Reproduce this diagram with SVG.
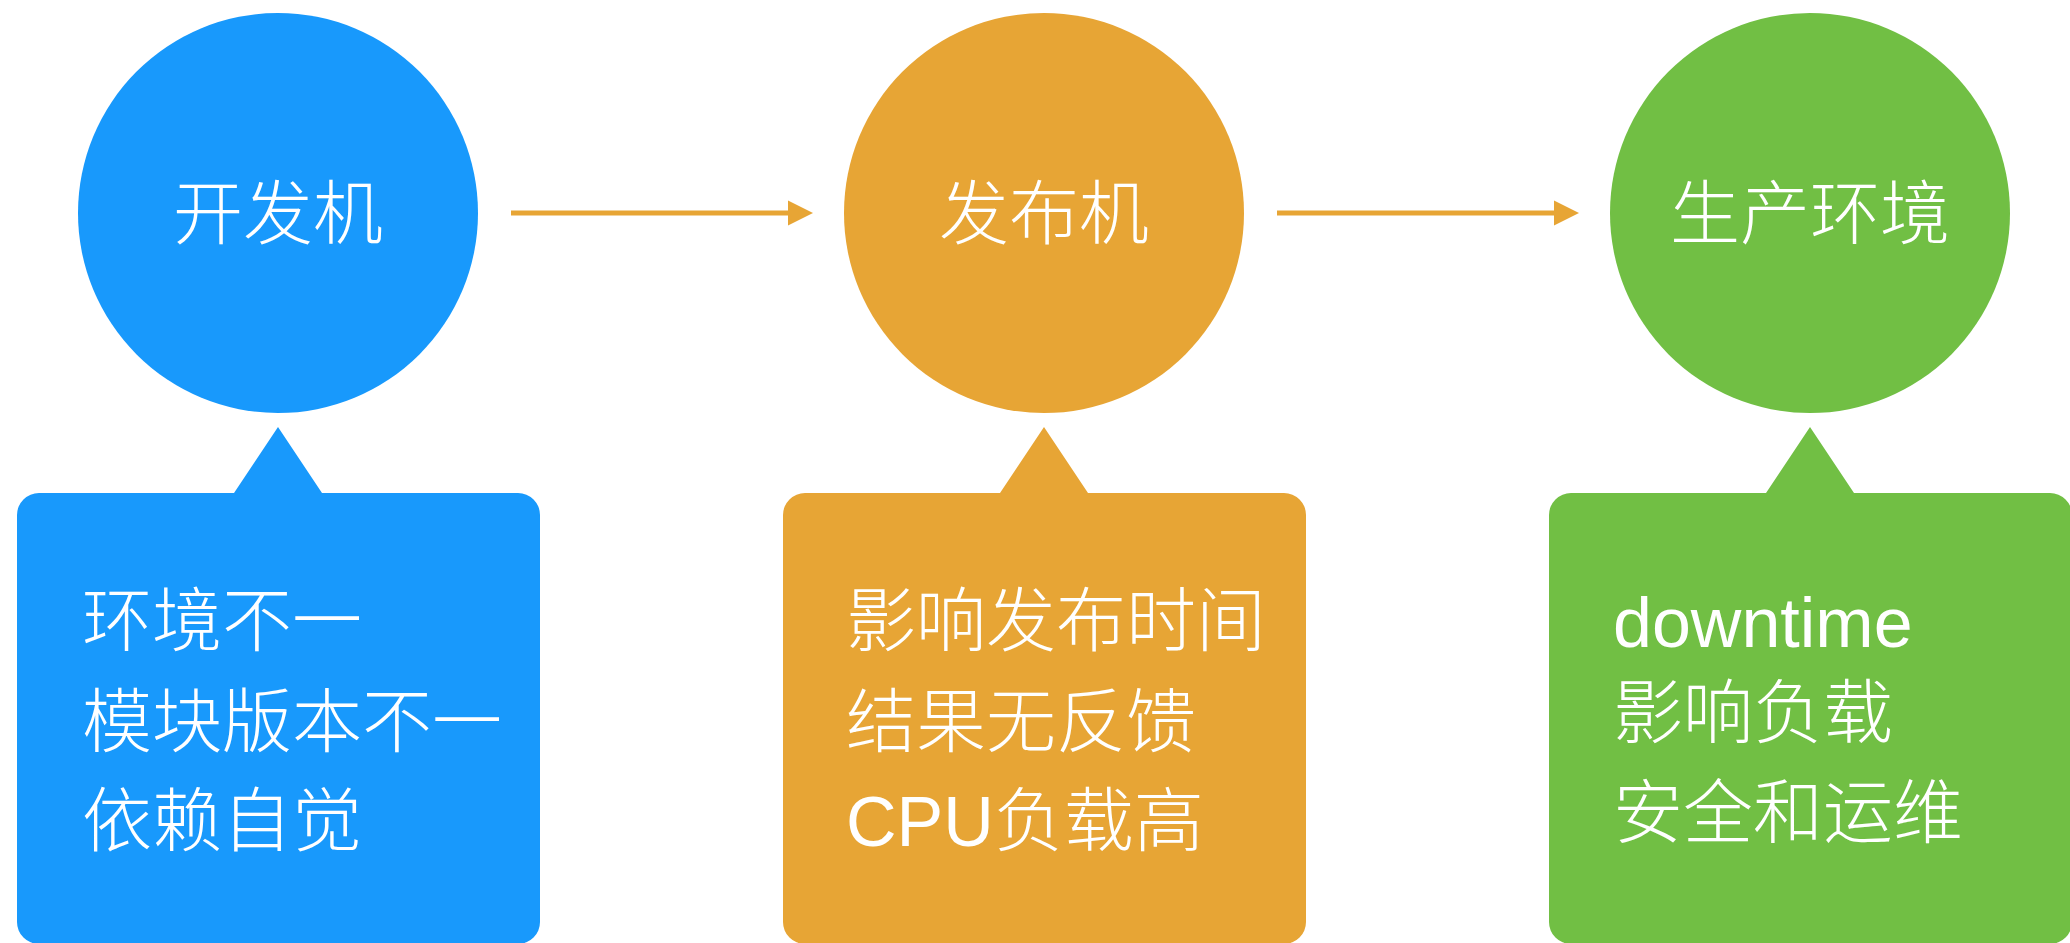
<svg xmlns="http://www.w3.org/2000/svg" width="2070" height="943" viewBox="0 0 2070 943">
<style>
.t{font-family:"Liberation Sans","Noto Sans CJK SC",sans-serif;font-weight:300;font-size:70px;fill:#ffffff}
.c{text-anchor:middle}
.blue{fill:#1899fc}
.orange{fill:#e7a535}
.green{fill:#71bf44}
.conn{stroke:#e7a535;stroke-width:5;fill:none}
</style>
<defs>
<marker id="ah" markerUnits="userSpaceOnUse" markerWidth="26" markerHeight="26" refX="0" refY="13" orient="auto">
<path d="M0,0.5 L25,13 L0,25.5 Z" fill="#e7a535"/>
</marker>
</defs>
<rect width="2070" height="943" fill="#ffffff"/>
<g id="connectors">
<line class="conn" x1="511" y1="213" x2="788" y2="213" marker-end="url(#ah)"/>
<line class="conn" x1="1277" y1="213" x2="1554" y2="213" marker-end="url(#ah)"/>
</g>
<g id="node-dev">
<circle class="blue" cx="278" cy="213" r="200"/>
<text class="t c" x="278" y="239">开发机</text>
</g>
<g id="node-release">
<circle class="orange" cx="1044" cy="213" r="200"/>
<text class="t c" x="1044" y="239">发布机</text>
</g>
<g id="node-prod">
<circle class="green" cx="1810" cy="213" r="200"/>
<text class="t c" x="1810" y="239">生产环境</text>
</g>
<g id="note-dev">
<path class="blue" d="M39,493 L234,493 L278,427 L322,493 L518,493 A22,22 0 0 1 540,515 L540,922 A22,22 0 0 1 518,944 L39,944 A22,22 0 0 1 17,922 L17,515 A22,22 0 0 1 39,493 Z"/>
<text class="t" x="82" y="646">环境不一</text>
<text class="t" x="82" y="747">模块版本不一</text>
<text class="t" x="82" y="846">依赖自觉</text>
</g>
<g id="note-release">
<path class="orange" d="M805,493 L1000,493 L1044,427 L1088,493 L1284,493 A22,22 0 0 1 1306,515 L1306,922 A22,22 0 0 1 1284,944 L805,944 A22,22 0 0 1 783,922 L783,515 A22,22 0 0 1 805,493 Z"/>
<text class="t" x="846" y="646">影响发布时间</text>
<text class="t" x="846" y="747">结果无反馈</text>
<text class="t" x="846" y="846">CPU负载高</text>
</g>
<g id="note-prod">
<path class="green" d="M1571,493 L1766,493 L1810,427 L1854,493 L2050,493 A22,22 0 0 1 2072,515 L2072,922 A22,22 0 0 1 2050,944 L1571,944 A22,22 0 0 1 1549,922 L1549,515 A22,22 0 0 1 1571,493 Z"/>
<text class="t" x="1613" y="647">downtime</text>
<text class="t" x="1613" y="738">影响负载</text>
<text class="t" x="1613" y="838">安全和运维</text>
</g>
</svg>
